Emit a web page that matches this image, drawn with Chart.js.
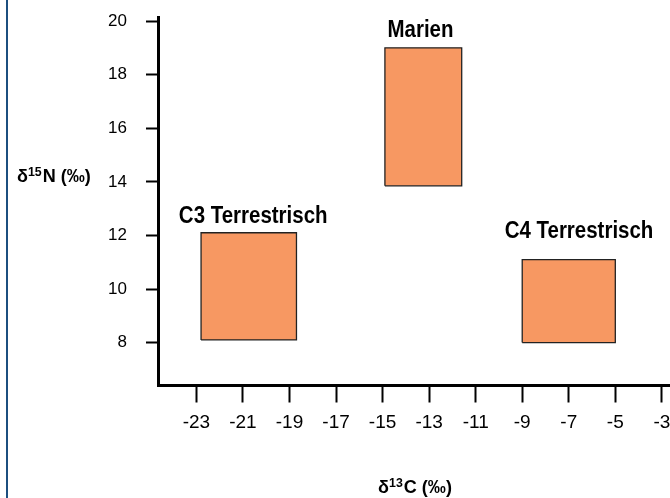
<!DOCTYPE html>
<html><head><meta charset="utf-8">
<script src="https://cdn.jsdelivr.net/npm/chart.js@4/dist/chart.umd.min.js"></script>
<style>html,body{margin:0;padding:0;background:#fff}#wrap{width:670px;height:498px;position:relative}</style>
</head><body><div id="wrap"><canvas id="c" width="670" height="498"></canvas></div>
<script>
const groups = ['C3 Terrestrisch', 'Marien', 'C4 Terrestrisch'];
const carbonMin = [-22.8, -14.9, -9.0];
const carbonMax = [-18.7, -11.6, -5.0];
const nitrogenMin = [8.1, 13.85, 8.0];
const nitrogenMax = [12.1, 19.0, 11.1];
const labelCarbon = [-20.56, -13.37, -6.56];
const labelNitrogen = [12.46, 19.4, 11.9];
const xTicks = [-23, -21, -19, -17, -15, -13, -11, -9, -7, -5, -3];
const yTicks = [8, 10, 12, 14, 16, 18, 20];
const xTitle = ['δ', '13', 'C (‰)'];
const yTitle = ['δ', '15', 'N (‰)'];

const FILL = '#F79862';
const datasets = groups.map((g, i) => ({
  label: g,
  data: [
    {x: carbonMin[i], y: nitrogenMin[i]},
    {x: carbonMin[i], y: nitrogenMax[i]},
    {x: carbonMax[i], y: nitrogenMax[i]},
    {x: carbonMax[i], y: nitrogenMin[i]},
    {x: carbonMin[i], y: nitrogenMin[i]}
  ],
  showLine: true,
  fill: 'shape',
  backgroundColor: FILL,
  borderColor: '#222',
  borderWidth: 1.3,
  pointRadius: 0,
  tension: 0
}));

const FONT = '"Liberation Sans", Arial, sans-serif';

function condensedText(ctx, text, x, y, sx) {
  ctx.save();
  ctx.translate(x, y);
  ctx.scale(sx, 1);
  ctx.fillText(text, 0, 0);
  ctx.restore();
}

function drawSup(ctx, parts, x0, base, align) {
  const sx = 0.95;
  const big = 'bold 19px ' + FONT;
  const small = 'bold 13px ' + FONT;
  ctx.font = big; const w0 = ctx.measureText(parts[0]).width * sx;
  ctx.font = small; const w1 = ctx.measureText(parts[1]).width * sx;
  ctx.font = big; const w2 = ctx.measureText(parts[2]).width * sx;
  const total = w0 + w1 + w2 + 1;
  let x = align === 'center' ? x0 - total / 2 : x0;
  ctx.textAlign = 'left'; ctx.textBaseline = 'alphabetic';
  ctx.font = big; condensedText(ctx, parts[0], x, base, sx); x += w0;
  ctx.font = small; condensedText(ctx, parts[1], x, base - 6, sx); x += w1 + 1;
  ctx.font = big; condensedText(ctx, parts[2], x, base, sx);
}

const overlay = {
  id: 'overlay',
  beforeDraw(chart) {
    const ctx = chart.ctx;
    ctx.save();
    ctx.fillStyle = '#1c4f7f';
    ctx.fillRect(6, 0, 2, chart.height);
    ctx.restore();
  },
  afterDatasetsDraw(chart) {
    const {ctx, scales: {x, y}} = chart;
    ctx.save();
    ctx.fillStyle = '#000';
    ctx.font = 'bold 23px ' + FONT;
    ctx.textAlign = 'center';
    ctx.textBaseline = 'alphabetic';
    groups.forEach((g, i) => {
      condensedText(ctx, g, x.getPixelForValue(labelCarbon[i]), y.getPixelForValue(labelNitrogen[i]), 0.89);
    });
    drawSup(ctx, yTitle, 17, 182, 'left');
    drawSup(ctx, xTitle, 415, 493, 'center');
    ctx.restore();
  }
};

new Chart(document.getElementById('c'), {
  type: 'scatter',
  data: {datasets},
  plugins: [overlay],
  options: {
    responsive: false,
    animation: false,
    layout: {padding: {top: 17, left: 0, right: 0, bottom: 0}},
    plugins: {legend: {display: false}, tooltip: {enabled: false}},
    scales: {
      x: {
        type: 'linear', min: -24.65, max: -2.65,
        afterBuildTicks: s => { s.ticks = xTicks.map(v => ({value: v})); },
        afterFit: s => { s.height = 112.5; s.paddingLeft = 0; s.paddingRight = 0; },
        grid: {drawOnChartArea: false, drawTicks: true, tickLength: 17, tickWidth: 2, tickColor: '#000'},
        border: {display: true, color: '#000', width: 3},
        ticks: {color: '#000', font: {family: 'Liberation Sans', size: 19}, padding: 9, maxRotation: 0, autoSkip: false}
      },
      y: {
        type: 'linear', min: 6.4, max: 20.15,
        afterBuildTicks: s => { s.ticks = yTicks.map(v => ({value: v})); },
        afterFit: s => { s.width = 158; s.paddingTop = 0; s.paddingBottom = 0; },
        grid: {drawOnChartArea: false, drawTicks: true, tickLength: 12, tickWidth: 2, tickColor: '#000'},
        border: {display: true, color: '#000', width: 3},
        ticks: {color: '#000', font: {family: 'Liberation Sans', size: 17}, padding: 19, autoSkip: false}
      }
    }
  }
});
</script>
</body></html>
